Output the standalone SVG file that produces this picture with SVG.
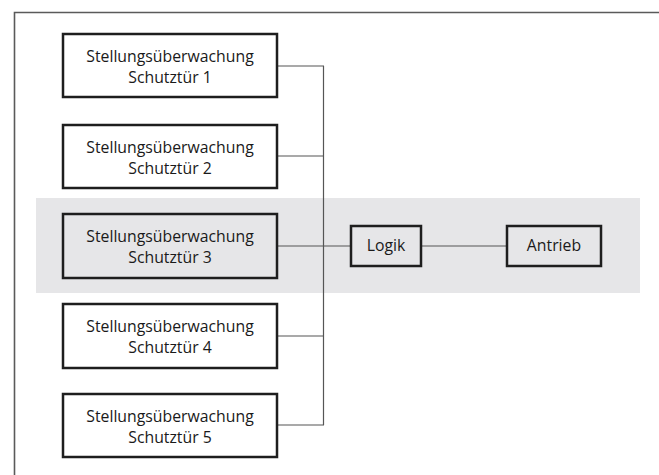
<svg xmlns="http://www.w3.org/2000/svg" width="659" height="475" viewBox="0 0 659 475">
<style>
.box{fill:#ffffff;stroke:#1e1e1e;stroke-width:2.5}
.gbox{fill:#e6e6e8;stroke:#1e1e1e;stroke-width:2.5}
.t{font-family:"Open Sans","Noto Sans","Liberation Sans",sans-serif;font-size:15.8px;fill:#1a1a1a;text-anchor:middle}
.c{stroke:#555;stroke-width:1.2;fill:none}
.frame{stroke:#5a5a5a;stroke-width:1.6;fill:none}
</style>
<rect width="659" height="475" fill="#ffffff"/>
<path class="frame" d="M14.5 475 V12.5 H659"/>
<rect x="36" y="198" width="604" height="95" fill="#e6e6e8"/>
<g id="connectors">
<path class="c" d="M277 66 H324 M277 156 H324 M277 246 H351 M277 336 H324 M277 425 H324 M421 246 H507"/>
<path class="c" stroke="#333" d="M323.5 66 V425"/>
</g>
<g id="n1"><rect class="box" x="63" y="34" width="214" height="63"/><text class="t" x="170" y="62">Stellungsüberwachung</text><text class="t" x="170" y="83">Schutztür 1</text></g>
<g id="n2"><rect class="box" x="63" y="125" width="214" height="63"/><text class="t" x="170" y="153">Stellungsüberwachung</text><text class="t" x="170" y="174">Schutztür 2</text></g>
<g id="n3"><rect class="gbox" x="63" y="214" width="214" height="64"/><text class="t" x="170" y="242">Stellungsüberwachung</text><text class="t" x="170" y="263">Schutztür 3</text></g>
<g id="n4"><rect class="box" x="63" y="304" width="214" height="64"/><text class="t" x="170" y="332">Stellungsüberwachung</text><text class="t" x="170" y="353">Schutztür 4</text></g>
<g id="n5"><rect class="box" x="63" y="394" width="214" height="63"/><text class="t" x="170" y="422">Stellungsüberwachung</text><text class="t" x="170" y="443">Schutztür 5</text></g>
<g id="logik"><rect class="gbox" x="351" y="226" width="70" height="40"/><text class="t" x="386" y="251">Logik</text></g>
<g id="antrieb"><rect class="gbox" x="507" y="226" width="94" height="40"/><text class="t" x="554" y="251">Antrieb</text></g>
</svg>
